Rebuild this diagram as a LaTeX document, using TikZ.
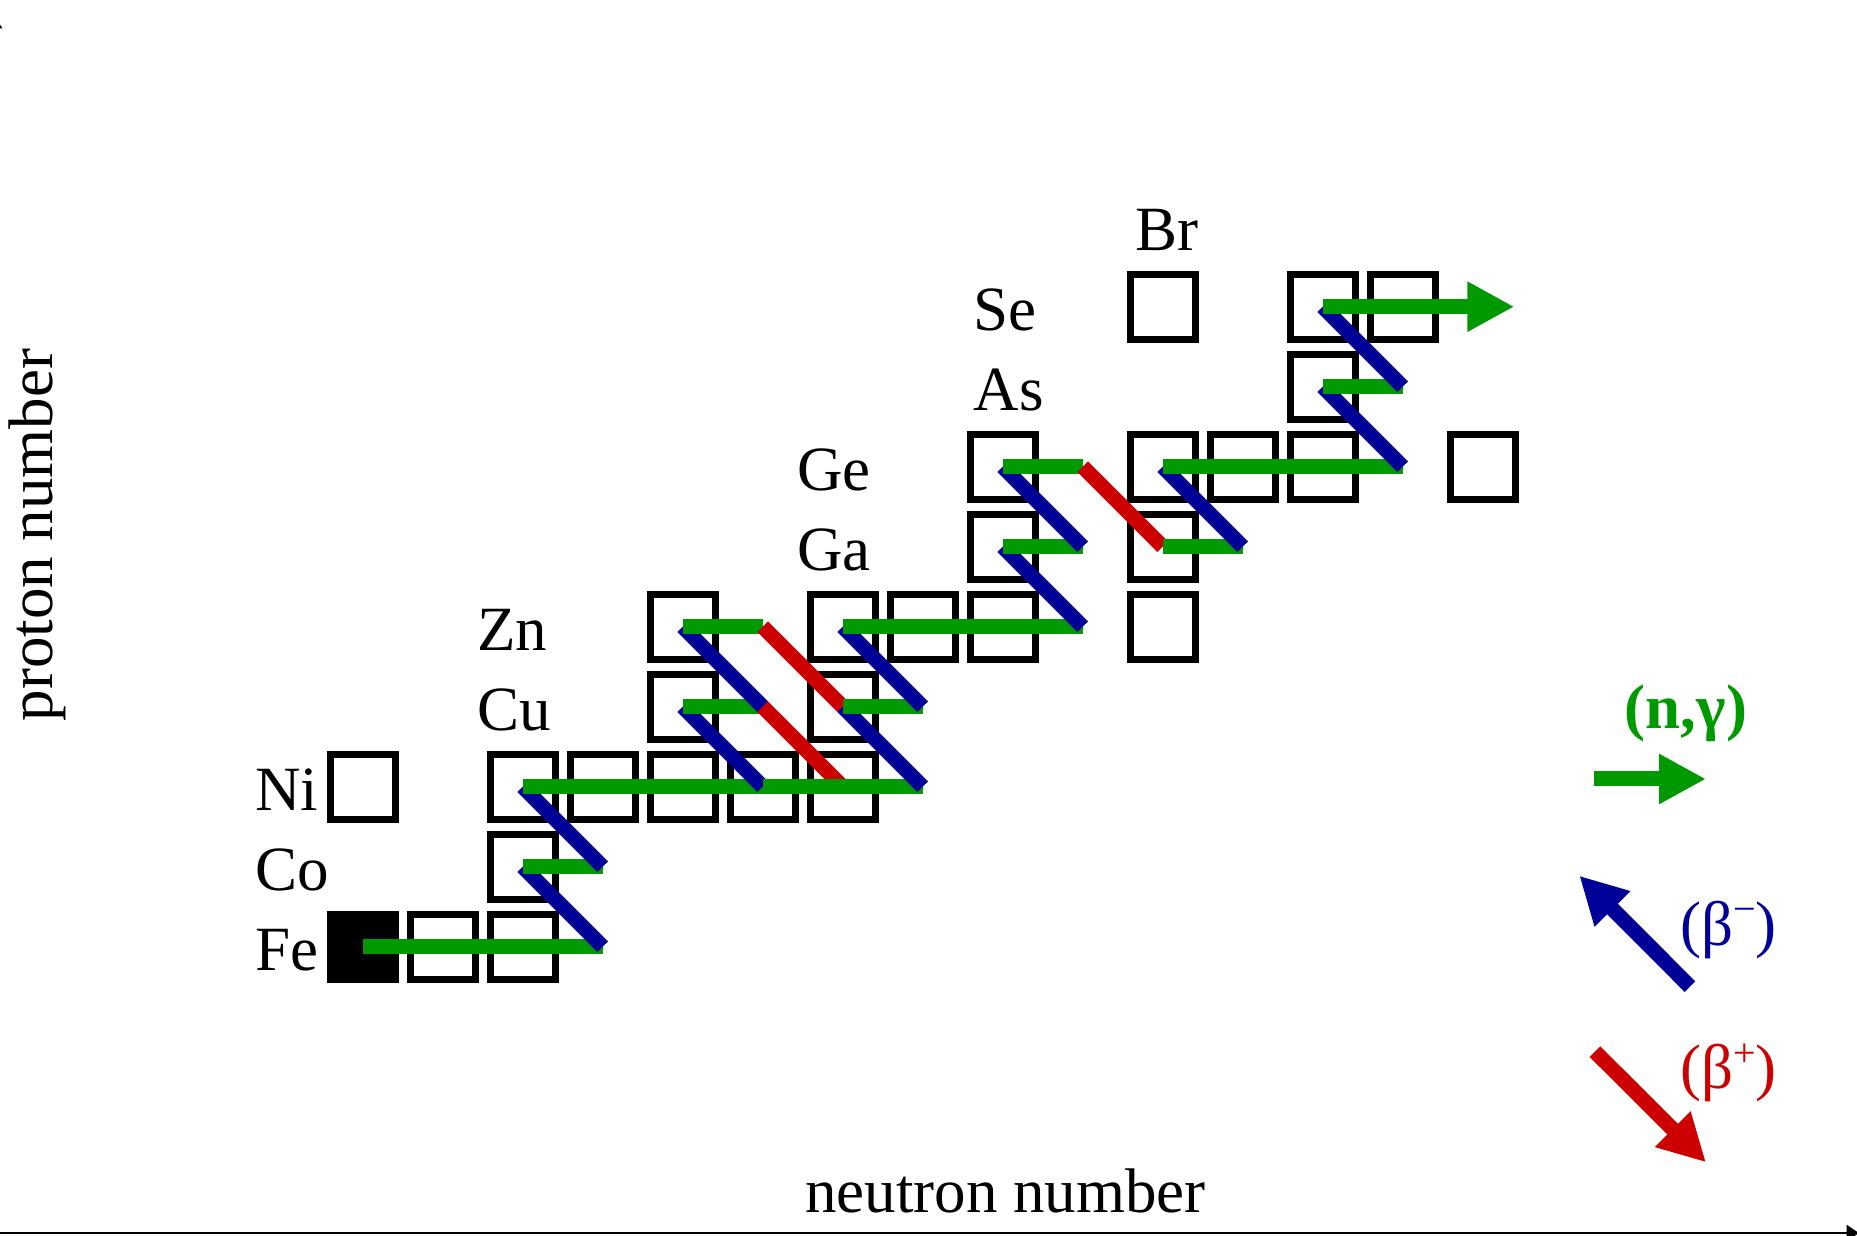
\documentclass[tikz,border=0pt]{standalone}
\usepackage{fontspec}
\setmainfont{Liberation Serif}
\usetikzlibrary{arrows.meta}
\definecolor{ngreen}{RGB}{0,153,0}
\definecolor{bblue}{RGB}{0,0,153}
\definecolor{pred}{RGB}{204,0,0}
\newcommand{\supr}[1]{\raisebox{0.36em}{\fontsize{40}{40}\selectfont #1}}
\begin{document}
\begin{tikzpicture}[x=1pt,y=1pt,
  bigfont/.style={font=\fontsize{63}{70}\selectfont},
  boldfont/.style={font=\fontsize{63}{70}\selectfont\bfseries},
  lbl/.style={bigfont, inner sep=0pt, anchor=base west},
  box/.style={draw=black, line width=7pt, minimum size=65pt, inner sep=0pt},
  fullbox/.style={box, fill=black},
  ng/.style={draw=ngreen, line width=15pt},
  bm/.style={draw=bblue, line width=15pt},
  bp/.style={draw=pred, line width=15pt},
  headtip/.style={-{Triangle[length=47pt,width=47pt]}},
  axisline/.style={line width=2.5pt, -{Triangle[length=12.5pt,width=16pt]}}]
\useasboundingbox (0,0) rectangle (1857,1235);

% axes
\coordinate (o) at (-5.8,2);
\coordinate (xend) at (1859,2);
\coordinate (yend) at (-5.8,1219);
\draw[axisline] (o) -- (xend);
\draw[axisline] (o) -- (yend);
\node[bigfont, inner sep=0pt, anchor=base] (xl) at (1005.5,23) {neutron number};
\node[bigfont, inner sep=0pt, anchor=base, rotate=90] (yl) at (52,700) {proton number};

% element labels
\node[lbl] (lFe) at (255,264.3) {Fe};
\node[lbl] (lCo) at (255,344.3) {Co};
\node[lbl] (lNi) at (255,424.3) {Ni};
\node[lbl] (lCu) at (477,504.3) {Cu};
\node[lbl] (lZn) at (477,584.3) {Zn};
\node[lbl] (lGa) at (797,664.3) {Ga};
\node[lbl] (lGe) at (797,744.3) {Ge};
\node[lbl] (lAs) at (973.5,824.3) {As};
\node[lbl] (lSe) at (973.5,904.3) {Se};
\node[lbl] (lBr) at (1135,984.3) {Br};

\begin{scope}[shift={(362.7pt,288.3pt)}, x=80pt, y=80pt]
  \foreach \c in {0,...,14}{\foreach \r in {0,...,9}{\coordinate (p\c-\r) at (\c,\r);}}
  \coordinate (tipSe) at (14.395,8);
  % boxes
  \node[fullbox] (b0-0) at (p0-0) {};
  \foreach \c/\r in {1/0,2/0,2/1,0/2,2/2,3/2,4/2,5/2,6/2,4/3,6/3,4/4,6/4,7/4,8/4,10/4,8/5,10/5,8/6,10/6,11/6,12/6,14/6,12/7,10/8,12/8,13/8}
    \node[box] (b\c-\r) at (p\c-\r) {};
  % reaction path
  \draw[ng] (p0-0) -- (p1-0);
  \draw[ng] (p1-0) -- (p2-0);
  \draw[ng] (p2-0) -- (p3-0);
  \draw[bm] (p3-0) -- (p2-1);
  \draw[ng] (p2-1) -- (p3-1);
  \draw[bm] (p3-1) -- (p2-2);
  \draw[ng] (p2-2) -- (p3-2);
  \draw[ng] (p3-2) -- (p4-2);
  \draw[ng] (p4-2) -- (p5-2);
  \draw[bm] (p5-2) -- (p4-3);
  \draw[ng] (p4-3) -- (p5-3);
  \draw[bm] (p5-3) -- (p4-4);
  \draw[ng] (p4-4) -- (p5-4);
  \draw[bp] (p5-4) -- (p6-3);
  \draw[bp] (p5-3) -- (p6-2);
  \draw[ng] (p5-2) -- (p6-2);
  \draw[ng] (p6-2) -- (p7-2);
  \draw[bm] (p7-2) -- (p6-3);
  \draw[ng] (p6-3) -- (p7-3);
  \draw[bm] (p7-3) -- (p6-4);
  \draw[ng] (p6-4) -- (p7-4);
  \draw[ng] (p7-4) -- (p8-4);
  \draw[ng] (p8-4) -- (p9-4);
  \draw[bm] (p9-4) -- (p8-5);
  \draw[ng] (p8-5) -- (p9-5);
  \draw[bm] (p9-5) -- (p8-6);
  \draw[ng] (p8-6) -- (p9-6);
  \draw[bp] (p9-6) -- (p10-5);
  \draw[ng] (p10-5) -- (p11-5);
  \draw[bm] (p11-5) -- (p10-6);
  \draw[ng] (p10-6) -- (p11-6);
  \draw[ng] (p11-6) -- (p12-6);
  \draw[ng] (p12-6) -- (p13-6);
  \draw[bm] (p13-6) -- (p12-7);
  \draw[ng] (p12-7) -- (p13-7);
  \draw[bm] (p13-7) -- (p12-8);
  \draw[ng] (p12-8) -- (p13-8);
  \draw[ng, headtip] (p13-8) -- (tipSe);
\end{scope}

% legend
\coordinate (gA) at (1594.3,456);
\coordinate (gB) at (1706,456);
\draw[ng, headtip] (gA) -- (gB);
\node[boldfont, inner sep=0pt, anchor=base, text=ngreen] (lng) at (1686,506.3) {(n,γ)};
\coordinate (bA) at (1690,248.3);
\coordinate (bB) at (1579.3,359.3);
\draw[bm, headtip] (bA) -- (bB);
\node[bigfont, inner sep=0pt, anchor=base, text=bblue] (lbm) at (1728.3,290) {(β\supr{\char"2212})};
\coordinate (rA) at (1595,183.3);
\coordinate (rB) at (1706,72.7);
\draw[bp, headtip] (rA) -- (rB);
\node[bigfont, inner sep=0pt, anchor=base, text=pred] (lbp) at (1728.3,146.3) {(β\supr{+})};
\end{tikzpicture}
\end{document}
